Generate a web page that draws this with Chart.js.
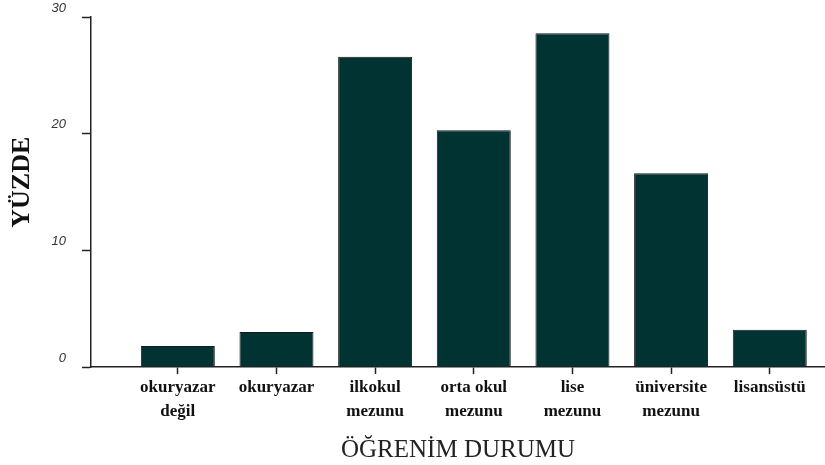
<!DOCTYPE html>
<html>
<head>
<meta charset="utf-8">
<script src="https://cdn.jsdelivr.net/npm/chart.js@4"></script>
<style>
	html, body { margin: 0; padding: 0; background: #fff; }
	#wrap { width: 825px; height: 465px; }
</style>
</head>
<body>
<div id="wrap"><canvas id="myChart"></canvas></div>
<script>
const categories = [
	['okuryazar', 'değil'],
	'okuryazar',
	['ilkokul', 'mezunu'],
	['orta okul', 'mezunu'],
	['lise', 'mezunu'],
	['üniversite', 'mezunu'],
	'lisansüstü',
]
const percents = [1.8, 3.0, 26.6, 20.3, 28.6, 16.6, 3.2]
const yTicks = [0, 10, 20, 30]

const ctx = document.getElementById('myChart')

new Chart(ctx, {
	type: 'bar',
	data: {
		datasets: [
			{
				data: percents.map((v, i) => ({ x: i, y: v })),
				backgroundColor: '#023333',
				borderColor: '#1a1a1a',
				borderWidth: 1,
				barPercentage: 0.75,
				categoryPercentage: 1,
			},
		],
	},
	options: {
		responsive: true,
		maintainAspectRatio: false,
		animation: false,
		layout: {
			padding: { top: 17, left: 0, right: 0, bottom: 0 },
		},
		plugins: {
			legend: { display: false },
			tooltip: { enabled: false },
		},
		scales: {
			x: {
				type: 'linear',
				offset: false,
				min: -0.88,
				max: 6.56,
				afterBuildTicks: (s) => {
					s.ticks = categories.map((c, i) => ({ value: i }))
				},
				afterFit: (s) => {
					s.height = 98
				},
				grid: {
					offset: false,
					drawOnChartArea: false,
					tickLength: 7,
					tickWidth: 1.5,
					tickColor: '#222',
				},
				border: { color: '#222', width: 1.5 },
				ticks: {
					autoSkip: false,
					maxRotation: 0,
					padding: 2,
					color: '#111',
					font: { family: 'Liberation Serif', size: 17, weight: 'bold', lineHeight: 1.4 },
					callback: (v) => categories[v],
				},
				title: {
					display: true,
					text: 'ÖĞRENİM DURUMU',
					color: '#222',
					font: { family: 'Liberation Serif', size: 25 },
					padding: { top: 0, bottom: 0 },
				},
			},
			y: {
				min: 0,
				max: 30,
				afterBuildTicks: (s) => {
					s.ticks = yTicks.map((v) => ({ value: v }))
				},
				afterFit: (s) => {
					s.width = 91
					s.paddingTop = 0
					s.paddingBottom = 0
				},
				grid: {
					drawOnChartArea: false,
					tickLength: 9,
					tickWidth: 1.5,
					tickColor: '#222',
				},
				border: { color: '#222', width: 1.5 },
				ticks: {
					padding: 16,
					labelOffset: -9,
					color: '#333',
					font: { family: 'Liberation Sans', size: 13, style: 'italic' },
				},
				title: {
					display: true,
					text: '   YÜZDE',
					color: '#111',
					font: { family: 'Liberation Serif', size: 26, weight: 'bold' },
					padding: { top: 7, bottom: 0 },
				},
			},
		},
	},
})
</script>
</body>
</html>
